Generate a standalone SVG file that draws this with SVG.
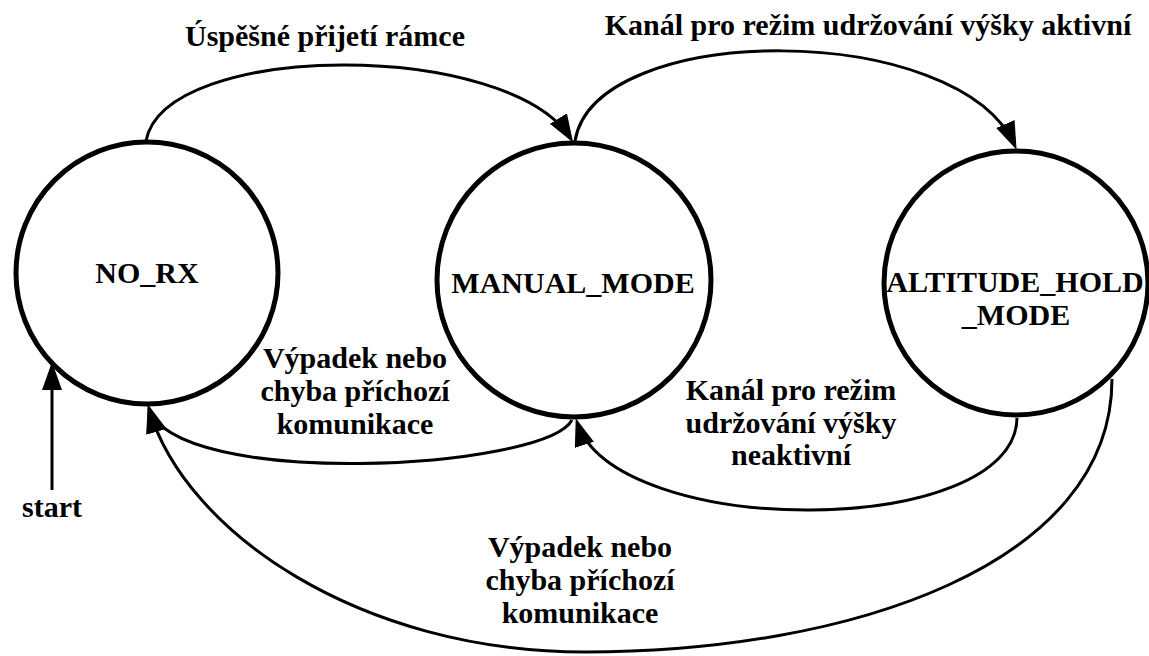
<svg xmlns="http://www.w3.org/2000/svg" width="1149" height="656" viewBox="0 0 1149 656">
  <style>
    .state { fill: #ffffff; stroke: #000000; stroke-width: 5; }
    .edge { fill: none; stroke: #000000; stroke-width: 3; marker-end: url(#arrow); }
    .lbl { font-family: "Liberation Serif", "Times New Roman", serif; font-weight: bold; font-size: 30px; fill: #000000; text-anchor: middle; }
  </style>
  <defs>
    <marker id="arrow" markerUnits="userSpaceOnUse" markerWidth="30" markerHeight="22" refX="24" refY="10" orient="auto">
      <path d="M0,0 L28,10 L0,20 z" fill="#000000"/>
    </marker>
  </defs>
  <rect width="1149" height="656" fill="#ffffff"/>

  <g id="connectors">
    <path id="e-start" class="edge" d="M52,490 L52,366"/>
    <path id="e-norx-manual" class="edge" d="M146,141 C165,40 510,40 571,139"/>
    <path id="e-manual-alt" class="edge" d="M575,141 C595,20 960,20 1015,146"/>
    <path id="e-manual-norx" class="edge" d="M572,420 C545,470 175,490 149,408"/>
    <path id="e-alt-norx" class="edge" d="M1112,379 C1112,565 850,652 585,652 C360,652 185,532 149,409"/>
    <path id="e-alt-manual" class="edge" d="M1017,418 C1015,540 615,540 577,422"/>
  </g>

  <g id="node-no-rx">
    <circle class="state" cx="147" cy="273" r="131"/>
    <text class="lbl" x="147" y="283">NO_RX</text>
  </g>
  <g id="node-manual-mode">
    <circle class="state" cx="574" cy="280" r="137"/>
    <text class="lbl" x="573" y="293">MANUAL_MODE</text>
  </g>
  <g id="node-altitude-hold-mode">
    <circle class="state" cx="1016" cy="283" r="132"/>
    <text class="lbl" x="1015" y="292">ALTITUDE_HOLD</text>
    <text class="lbl" x="1016" y="325">_MODE</text>
  </g>

  <g id="labels">
    <text class="lbl" x="52" y="517">start</text>
    <text class="lbl" x="325" y="46">Úspěšné přijetí rámce</text>
    <text class="lbl" x="868" y="35">Kanál pro režim udržování výšky aktivní</text>
    <text class="lbl" x="355" y="368">Výpadek nebo</text>
    <text class="lbl" x="355" y="401">chyba příchozí</text>
    <text class="lbl" x="355" y="434">komunikace</text>
    <text class="lbl" x="791" y="400">Kanál pro režim</text>
    <text class="lbl" x="791" y="433">udržování výšky</text>
    <text class="lbl" x="791" y="465">neaktivní</text>
    <text class="lbl" x="580" y="557">Výpadek nebo</text>
    <text class="lbl" x="580" y="590">chyba příchozí</text>
    <text class="lbl" x="580" y="623">komunikace</text>
  </g>
</svg>
